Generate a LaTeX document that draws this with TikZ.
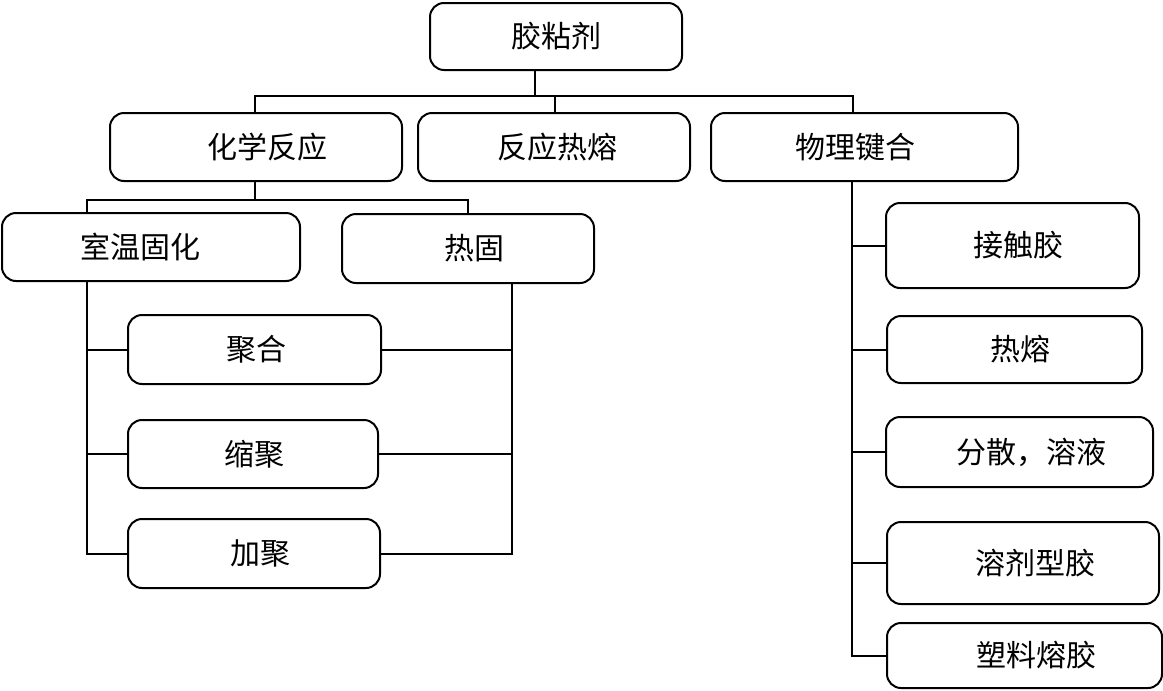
\documentclass[tikz,border=0pt]{standalone}
\usepackage{fontspec}
\newfontfamily\cjk{Noto Sans CJK SC}
\newcommand\tx[2]{\makebox[0pt]{\hspace*{#1pt}#2}}
\begin{document}
\begin{tikzpicture}[x=0.5pt,y=-0.5pt,
  box/.style={draw, line width=1pt, rounded corners=7pt, inner sep=0pt,
    font=\fontsize{15pt}{18pt}\cjk},
  conn/.style={line width=1pt}]
\useasboundingbox (0,0) rectangle (1163,691);
% boxes
\node[box, minimum width=126pt, minimum height=33.5pt] (top) at (556,36.5) {胶粘剂};
\node[box, minimum width=146pt, minimum height=34pt] (hx) at (256,147) {\tx{11}{化学反应}};
\node[box, minimum width=136pt, minimum height=34pt] (fr) at (554,147) {\tx{3}{反应热熔}};
\node[box, minimum width=153.5pt, minimum height=34pt] (wl) at (864.5,147) {\tx{-9}{物理键合}};
\node[box, minimum width=149pt, minimum height=34pt] (sw) at (151,247) {\tx{-11}{室温固化}};
\node[box, minimum width=126pt, minimum height=34.5pt] (rg) at (468,248.5) {\tx{6}{热固}};
\node[box, minimum width=126.5pt, minimum height=34.5pt] (jh) at (254.5,349.5) {\tx{2}{聚合}};
\node[box, minimum width=125pt, minimum height=34pt] (sj) at (253,454) {\tx{1}{缩聚}};
\node[box, minimum width=126pt, minimum height=34.5pt] (jj) at (254,553.5) {\tx{6}{加聚}};
\node[box, minimum width=126.5pt, minimum height=42.5pt] (jc) at (1012.5,245.5) {\tx{6}{接触胶}};
\node[box, minimum width=127.5pt, minimum height=33.5pt] (rr) at (1014.5,349.5) {\tx{6}{热熔}};
\node[box, minimum width=133.5pt, minimum height=35pt] (fs) at (1019.5,452) {\tx{12}{分散，溶液}};
\node[box, minimum width=136pt, minimum height=41pt] (rj) at (1023,563) {\tx{12}{溶剂型胶}};
\node[box, minimum width=137.5pt, minimum height=32.5pt] (sl) at (1024.5,655.5) {\tx{12}{塑料熔胶}};
% bus coordinates
\coordinate (b0) at (535,96);
\coordinate (bL) at (255,96);
\coordinate (bM) at (555,96);
\coordinate (bR) at (853,96);
\coordinate (c0) at (255,200);
\coordinate (cL) at (87,200);
\coordinate (cR) at (468,200);
\coordinate (vL) at (87,0);
\coordinate (vR) at (512,0);
\coordinate (vP) at (852,0);
% connectors
\draw[conn] (top.south -| b0) -- (b0);
\draw[conn] (hx.north -| bL) -- (bL) -- (bR) -- (wl.north -| bR);
\draw[conn] (bM) -- (fr.north -| bM);
\draw[conn] (hx.south -| c0) -- (c0);
\draw[conn] (sw.north -| cL) -- (cL) -- (cR) -- (rg.north -| cR);
\draw[conn] (sw.south -| vL) |- (jj.west);
\draw[conn] (jh.west -| vL) -- (jh.west);
\draw[conn] (sj.west -| vL) -- (sj.west);
\draw[conn] (rg.south -| vR) |- (jj.east);
\draw[conn] (jh.east) -- (jh.east -| vR);
\draw[conn] (sj.east) -- (sj.east -| vR);
\draw[conn] (wl.south -| vP) |- (sl.west);
\draw[conn] (jc.west -| vP) -- (jc.west);
\draw[conn] (rr.west -| vP) -- (rr.west);
\draw[conn] (fs.west -| vP) -- (fs.west);
\draw[conn] (rj.west -| vP) -- (rj.west);
\end{tikzpicture}
\end{document}
